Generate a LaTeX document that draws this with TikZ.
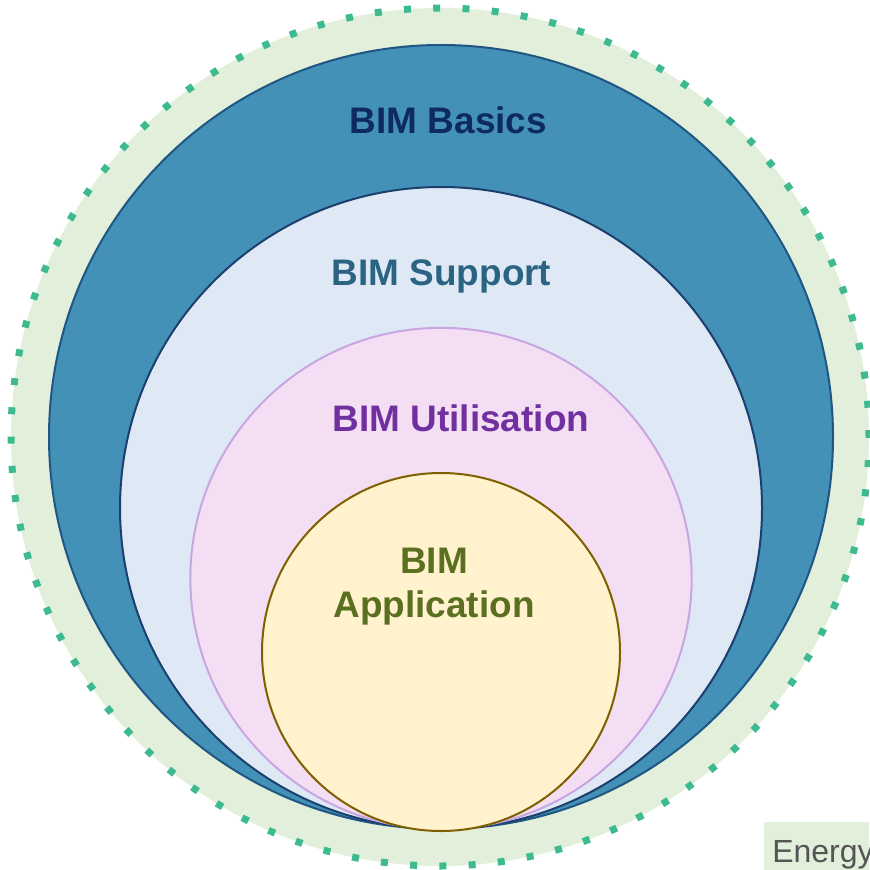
\documentclass[tikz,border=0pt]{standalone}
\usepackage{fontspec}
\setmainfont{Liberation Sans}
\definecolor{outerfill}{HTML}{E2EFDA}
\definecolor{dotgreen}{HTML}{3DBA8F}
\definecolor{basicfill}{HTML}{4391B7}
\definecolor{basicline}{HTML}{1F5683}
\definecolor{basictext}{HTML}{0F2A60}
\definecolor{suppfill}{HTML}{DEE9F5}
\definecolor{suppline}{HTML}{1C3F6E}
\definecolor{supptext}{HTML}{2B6483}
\definecolor{utilfill}{HTML}{F4DEF3}
\definecolor{utilline}{HTML}{C9A6E2}
\definecolor{utiltext}{HTML}{7030A0}
\definecolor{appfill}{HTML}{FFF2CC}
\definecolor{appline}{HTML}{7F6000}
\definecolor{apptext}{HTML}{5A6F20}
\definecolor{energytext}{HTML}{555555}
\begin{document}
\begin{tikzpicture}[x=0.75pt,y=-0.75pt,
  title/.style={font=\fontsize{27.7}{33}\selectfont\bfseries, inner sep=0pt, anchor=base},
  ring/.style={line width=1.5pt}]
\useasboundingbox (0,0) rectangle (869,870);
% outer dotted circle
\fill[outerfill] (440,437) circle[radius=321.75pt];
\draw[dotgreen, line width=5.25pt, dash pattern=on 5.25pt off 16.72pt] (440,437) circle[radius=321.75pt];
% BIM Basics
\draw[ring, fill=basicfill, draw=basicline] (441,437) circle[radius=294pt];
% BIM Support
\draw[ring, fill=suppfill, draw=suppline] (441,508) circle[radius=240.75pt];
% BIM Utilisation
\draw[ring, fill=utilfill, draw=utilline] (441,578.5) circle[radius=188pt];
% BIM Application
\draw[ring, fill=appfill, draw=appline] (441,652) circle[radius=134.25pt];
% labels
\node[title, text=basictext] (basics) at (448.5,133) {BIM Basics};
\node[title, text=supptext] (support) at (441.5,285) {BIM Support};
\node[title, text=utiltext] (util) at (461,431) {BIM Utilisation};
\node[title, text=apptext] (app1) at (434,573) {BIM};
\node[title, text=apptext] (app2) at (434,617) {Application};
% Energy label (cut off at the edge)
\begin{scope}
\clip (0,0) rectangle (869,870);
\fill[outerfill] (764,822) rectangle (900,880);
\node[anchor=base west, inner sep=0pt, text=energytext, font=\fontsize{24}{28}\selectfont] (energy) at (772,862) {Energy};
\end{scope}
\end{tikzpicture}
\end{document}
